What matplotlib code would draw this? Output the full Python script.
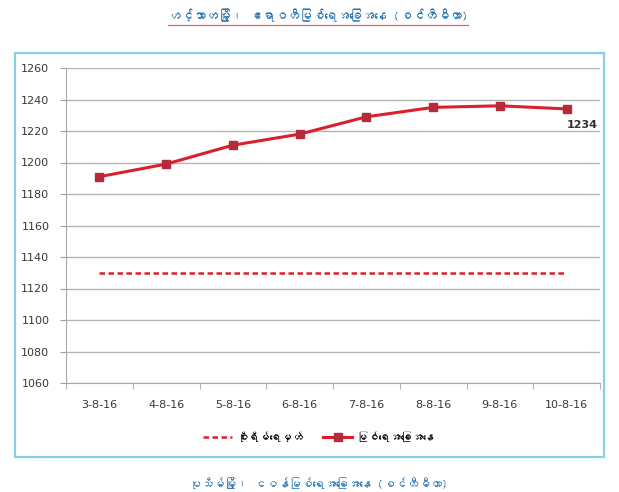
import matplotlib
matplotlib.use("Agg")
import matplotlib.pyplot as plt
from matplotlib import font_manager
from matplotlib.ft2font import FT2Font
from matplotlib.patches import Rectangle
from matplotlib.lines import Line2D

# 数据：日期、河流水位、警戒水位
dates = ["3-8-16", "4-8-16", "5-8-16", "6-8-16", "7-8-16", "8-8-16", "9-8-16", "10-8-16"]
river_level = [1191, 1199, 1211, 1218, 1229, 1235, 1236, 1234]
danger_level = [1130, 1130, 1130, 1130, 1130, 1130, 1130, 1130]
y_ticks = [1060, 1080, 1100, 1120, 1140, 1160, 1180, 1200, 1220, 1240, 1260]

title_text = "ဟင်္သာတမြို့၊ ဧရာဝတီမြစ်ရေအခြေအနေ (စင်တီမီတာ)"
next_title_text = "ပုသိမ်မြို့၊ ငဝန်မြစ်ရေအခြေအနေ (စင်တီမီတာ)"
legend_labels = ["စိုးရိမ်ရေမှတ်", "မြစ်ရေအခြေအနေ"]

LINE_RED = "#dc1f2d"
MARK_RED = "#b52a3c"


def find_font(codepoint):
    """找一个包含指定字符的已安装字体"""
    for f in font_manager.fontManager.ttflist:
        try:
            if codepoint in FT2Font(f.fname).get_charmap():
                return f.name
        except Exception:
            pass
    return None


mm_font = find_font(0x1000)
mm_family = [mm_font, "DejaVu Sans"] if mm_font else ["DejaVu Sans"]

fig = plt.figure(figsize=(6.19, 4.92), dpi=100)
W, H = 619, 492

# 外框（浅蓝色）
fig.patches.append(Rectangle((15 / W, 1 - 457 / H), 589 / W, 404 / H,
                             transform=fig.transFigure, fill=False,
                             edgecolor="#86cfe6", linewidth=1.6))

ax = fig.add_axes([66 / W, 1 - 383 / H, 534 / W, 315 / H])
x = list(range(len(dates)))

ax.plot(x, danger_level, color=LINE_RED, linestyle=(0, (2.2, 1.4)), linewidth=1.8)
ax.plot(x, river_level, color=LINE_RED, linewidth=2.2, marker="s",
        markersize=5.5, markerfacecolor=MARK_RED, markeredgecolor=MARK_RED)

ax.annotate(str(river_level[-1]), (x[-1], river_level[-1]), xytext=(0, -8),
            textcoords="offset points", ha="left", va="top",
            fontsize=8, fontweight="bold", color="#303030")

ax.set_xlim(-0.5, len(dates) - 0.5)
ax.set_ylim(1060, 1260)
ax.set_yticks(y_ticks)
ax.set_xticks(x)
ax.set_xticklabels(dates)
ax.set_xticks([i + 0.5 for i in range(-1, len(dates))], minor=True)
ax.tick_params(axis="x", which="major", length=0, pad=12, labelsize=8, labelcolor="#383838")
ax.tick_params(axis="x", which="minor", length=4, color="#a0a0a0")
ax.tick_params(axis="y", length=4, color="#a0a0a0", pad=8, labelsize=8, labelcolor="#383838")

ax.grid(axis="y", color="#b4b4b4", linewidth=1)
ax.set_axisbelow(True)
for s in ["top", "right"]:
    ax.spines[s].set_visible(False)
for s in ["left", "bottom"]:
    ax.spines[s].set_color("#a8a8a8")

# 图例
handles = [Line2D([], [], color=LINE_RED, linestyle=(0, (2.2, 1.4)), linewidth=1.8),
           Line2D([], [], color=LINE_RED, linewidth=2.2, marker="s", markersize=5.5,
                  markerfacecolor=MARK_RED, markeredgecolor=MARK_RED)]
fig.legend(handles, legend_labels, loc="center", bbox_to_anchor=(319 / W, 1 - 436 / H),
           ncol=2, frameon=False, prop={"family": mm_family, "size": 8},
           handlelength=2.6, columnspacing=1.8, handletextpad=0.4)

# 标题（带红色下划线）
fig.text(318 / W, 1 - 15 / H, title_text, ha="center", va="center",
         fontsize=9, color="#2672b0", family=mm_family)
fig.add_artist(Line2D([168 / W, 468 / W], [1 - 25 / H, 1 - 25 / H],
                      transform=fig.transFigure, color="#e0607a", linewidth=0.9))
fig.text(318 / W, 1 - 483 / H, next_title_text, ha="center", va="center",
         fontsize=8.5, color="#2672b0", family=mm_family)

fig.savefig("out.png", dpi=100)
